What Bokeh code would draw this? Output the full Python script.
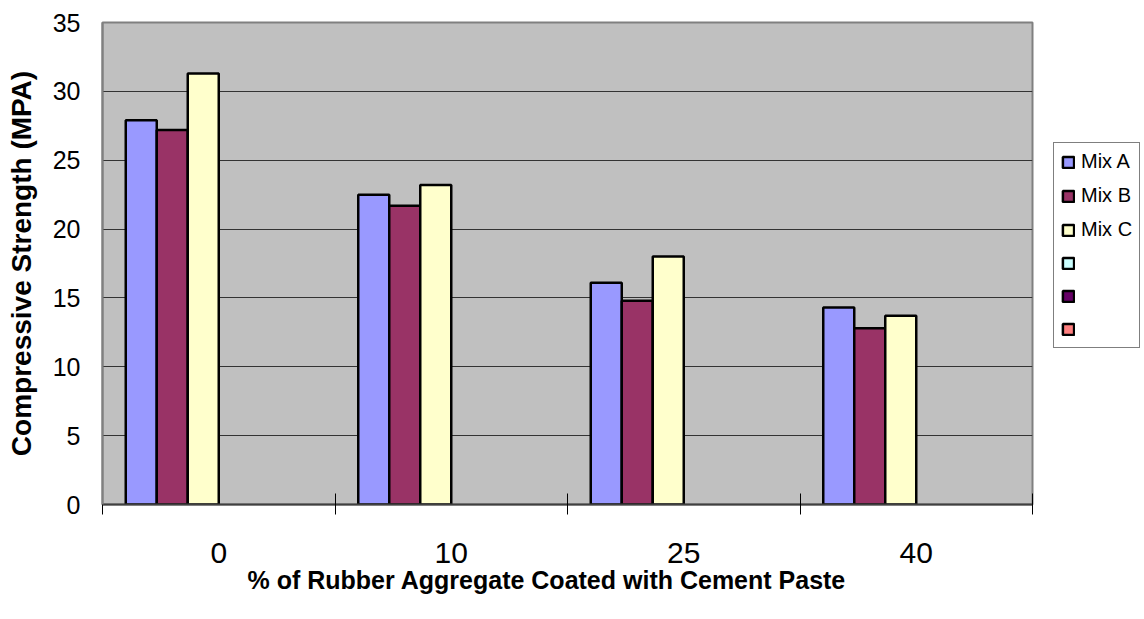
from bokeh.plotting import figure
from bokeh.models import Range1d, FixedTicker, Legend, LegendItem, ColumnDataSource, Title
from bokeh.transform import dodge
from bokeh.embed import file_html
from bokeh.resources import INLINE

# ---- data ----
categories = ["0", "10", "25", "40"]
mix_a = [27.9, 22.5, 16.1, 14.3]
mix_b = [27.2, 21.7, 14.8, 12.8]
mix_c = [31.3, 23.2, 18.0, 13.7]
empty_series = [float("nan")] * len(categories)   # legend-only series (no values)
series_names = ["Mix A", "Mix B", "Mix C", "", "", ""]
y_ticks = [0, 5, 10, 15, 20, 25, 30, 35]
x_title = "% of Rubber Aggregate Coated with Cement Paste"
y_title = "Compressive Strength (MPA)"

colors = ["#9999FF", "#993366", "#FFFFCC", "#CCFFFF", "#660066", "#FF8080"]
FONT = "Liberation Sans"

n_series = len(series_names)
gap = 1.5
bar_w = 1.0 / (n_series + gap)
centers = [i + 0.5 for i in range(len(categories))]
boundaries = [i for i in range(len(categories) + 1)]

p = figure(frame_width=930, frame_height=482,
           x_range=Range1d(0, len(categories)), y_range=Range1d(y_ticks[0], y_ticks[-1]),
           output_backend="svg", toolbar_location=None,
           min_border_left=102, min_border_right=112,
           min_border_top=22, min_border_bottom=115)

p.background_fill_color = "#C0C0C0"
p.border_fill_color = "white"
p.outline_line_color = "#808080"
p.outline_line_width = 2

src = ColumnDataSource(dict(xc=centers, s0=mix_a, s1=mix_b, s2=mix_c,
                            s3=empty_series, s4=empty_series, s5=empty_series))

items = []
for i, name in enumerate(series_names):
    r = p.vbar(x=dodge("xc", (i - (n_series - 1) / 2) * bar_w, range=p.x_range),
               top="s%d" % i, width=bar_w, source=src,
               fill_color=colors[i], line_color="black", line_width=2.5)
    items.append(LegendItem(label=name if name else " ", renderers=[r]))

# grid
p.xgrid.visible = False
p.ygrid.ticker = FixedTicker(ticks=y_ticks)
p.ygrid.grid_line_color = "#333333"
p.ygrid.grid_line_width = 1

# x axis
xa = p.xaxis[0]
xa.ticker = FixedTicker(ticks=centers, minor_ticks=boundaries)
xa.major_label_overrides = {c: lab for c, lab in zip(centers, categories)}
xa.major_tick_line_color = None
xa.major_tick_in = 0
xa.major_tick_out = 0
xa.minor_tick_line_color = "black"
xa.minor_tick_line_width = 1
xa.minor_tick_in = 11
xa.minor_tick_out = 10
xa.axis_line_color = "#404040"
xa.axis_line_width = 2
xa.major_label_text_font = FONT
xa.major_label_text_font_size = "30px"
xa.major_label_text_color = "black"
xa.major_label_standoff = 28

xt = Title(text=x_title, align="left", offset=145, vertical_align="top", standoff=0,
           text_font=FONT, text_font_size="25px", text_font_style="bold",
           text_color="black")
p.add_layout(xt, "below")

# y axis
ya = p.yaxis[0]
ya.ticker = FixedTicker(ticks=y_ticks)
ya.major_tick_line_color = None
ya.minor_tick_line_color = None
ya.major_tick_in = 0
ya.major_tick_out = 0
ya.axis_line_color = "#808080"
ya.axis_line_width = 2
ya.major_label_text_font = FONT
ya.major_label_text_font_size = "25px"
ya.major_label_text_color = "black"
ya.major_label_standoff = 22
ya.axis_label = y_title
ya.axis_label_text_font = FONT
ya.axis_label_text_font_size = "28px"
ya.axis_label_text_font_style = "bold"
ya.axis_label_text_color = "black"
ya.axis_label_standoff = 13

legend = Legend(items=items, location=(21, 156),
                label_text_font=FONT, label_text_font_size="20px",
                label_text_color="black",
                glyph_width=14, glyph_height=14, label_height=22,
                label_standoff=6, spacing=11, padding=7, margin=0,
                border_line_color="black", border_line_width=1,
                background_fill_color="white", background_fill_alpha=1.0)
p.add_layout(legend, "right")

open("out.html", "w").write(file_html(p, INLINE))
